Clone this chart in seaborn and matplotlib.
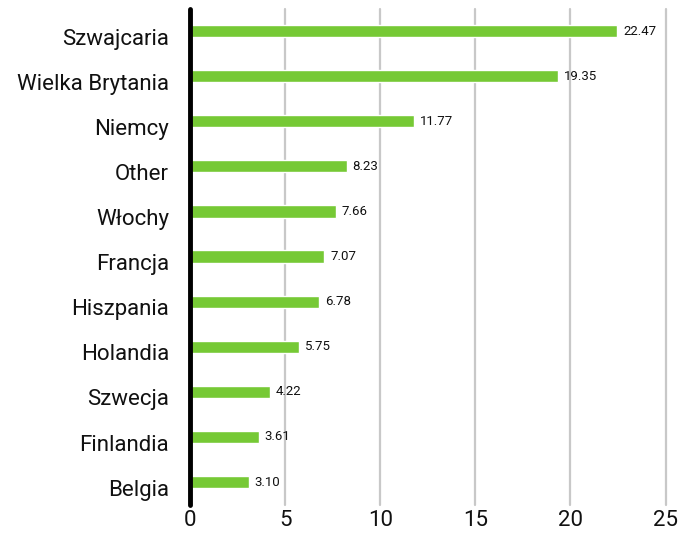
import matplotlib
matplotlib.use("Agg")
import matplotlib.pyplot as plt
import matplotlib.transforms as mtransforms
import seaborn as sns
import pandas as pd

countries = ["Szwajcaria", "Wielka Brytania", "Niemcy", "Other", "Włochy", "Francja",
             "Hiszpania", "Holandia", "Szwecja", "Finlandia", "Belgia"]
values = [22.47, 19.35, 11.77, 8.23, 7.66, 7.07, 6.78, 5.75, 4.22, 3.61, 3.10]
xticks = [0, 5, 10, 15, 20, 25]

df = pd.DataFrame({"country": countries, "value": values})

sns.set_style("white")
plt.rcParams['font.family'] = ['Roboto', 'DejaVu Sans']

fig = plt.figure(figsize=(6.79, 5.34), dpi=100)
ax = fig.add_axes([0.2798, 0.055, 0.7005, 0.929])

sns.barplot(data=df, x="value", y="country", color="#76c935", width=0.27,
            saturation=1, ax=ax, zorder=3)

ax.set_xlim(0, 25)
ax.set_xticks(xticks)
ax.set_xticklabels([str(t) for t in xticks], fontsize=16, color="#111111")
ax.tick_params(axis="y", labelsize=16, length=0, pad=15, labelcolor="#111111")
ax.tick_params(axis="x", length=0, pad=4)
for t in xticks[1:]:
    ax.axvline(t, color="#c8c8c8", lw=1.6, zorder=1, clip_on=False)
ax.axvline(0, color="black", lw=3.5, zorder=4, clip_on=False)
for s in ax.spines.values():
    s.set_visible(False)
ax.set_xlabel("")
ax.set_ylabel("")

off = mtransforms.ScaledTranslation(0, -4 / 72, fig.dpi_scale_trans)
for lab in ax.get_yticklabels():
    lab.set_transform(lab.get_transform() + off)

for i, v in enumerate(values):
    ax.text(v + 0.3, i, f"{v:.2f}", va="center", ha="left", fontsize=9.5,
            color="#111111", zorder=5)

fig.savefig("out.png", dpi=100)
